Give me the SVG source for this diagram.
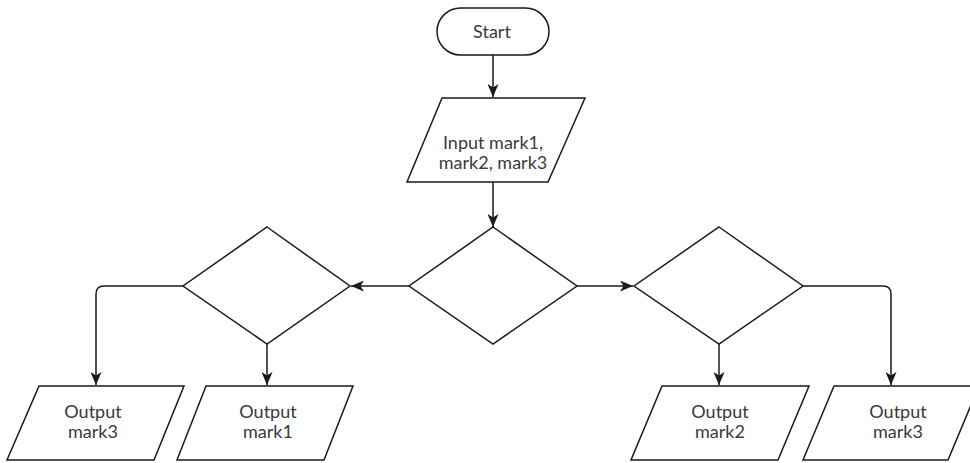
<svg xmlns="http://www.w3.org/2000/svg" width="970" height="463" viewBox="0 0 970 463">
<defs>
<marker id="ah" viewBox="0 0 13 11" refX="13" refY="5.5" markerWidth="13" markerHeight="11" markerUnits="userSpaceOnUse" orient="auto">
<path d="M0,0 L13,5.5 L0,11 L3.5,5.5 Z" fill="#1a1a1a"/>
</marker>
<style>
.s{fill:#fff;stroke:#1a1a1a;stroke-width:1.5;stroke-linejoin:miter}
.c{fill:none;stroke:#1a1a1a;stroke-width:1.5}
.t{font-family:Lato,"Noto Sans",sans-serif;font-size:18px;fill:#3a3a3a;text-anchor:middle}
</style>
</defs>
<rect width="970" height="463" fill="#fff"/>
<g id="connectors">
<path class="c" d="M493,55 V97" marker-end="url(#ah)"/>
<path class="c" d="M493,182 V227" marker-end="url(#ah)"/>
<path class="c" d="M409,286 H351" marker-end="url(#ah)"/>
<path class="c" d="M577,286 H633" marker-end="url(#ah)"/>
<path class="c" d="M183,286 H104 Q96,286 96,294 V385" marker-end="url(#ah)"/>
<path class="c" d="M267,344 V385" marker-end="url(#ah)"/>
<path class="c" d="M719,344 V385" marker-end="url(#ah)"/>
<path class="c" d="M803,286 H883 Q891,286 891,294 V385" marker-end="url(#ah)"/>
</g>
<g id="start">
<rect class="s" x="437" y="8" width="112" height="47" rx="23.5"/>
<text class="t" x="492" y="38">Start</text>
</g>
<g id="input">
<polygon class="s" points="442,98 585,98 548,182 407,182"/>
<text class="t" x="493" y="149">Input mark1,</text>
<text class="t" x="493" y="169">mark2, mark3</text>
</g>
<g id="decision-center">
<polygon class="s" points="493,227 577,286 493,344 409,286"/>
</g>
<g id="decision-left">
<polygon class="s" points="267,227 350,286 267,344 183,286"/>
</g>
<g id="decision-right">
<polygon class="s" points="719,227 803,286 719,344 634,286"/>
</g>
<g id="output-left-mark3">
<polygon class="s" points="39,386 184,386 154,460 7,460"/>
<text class="t" x="93" y="418">Output</text>
<text class="t" x="93" y="438">mark3</text>
</g>
<g id="output-mark1">
<polygon class="s" points="206,386 353,386 324,460 177,460"/>
<text class="t" x="268" y="418">Output</text>
<text class="t" x="268" y="438">mark1</text>
</g>
<g id="output-mark2">
<polygon class="s" points="662,386 809,386 778,460 631,460"/>
<text class="t" x="720" y="418">Output</text>
<text class="t" x="720" y="438">mark2</text>
</g>
<g id="output-right-mark3">
<polygon class="s" points="834,386 979,386 948,460 803,460"/>
<text class="t" x="898" y="418">Output</text>
<text class="t" x="898" y="438">mark3</text>
</g>
</svg>
